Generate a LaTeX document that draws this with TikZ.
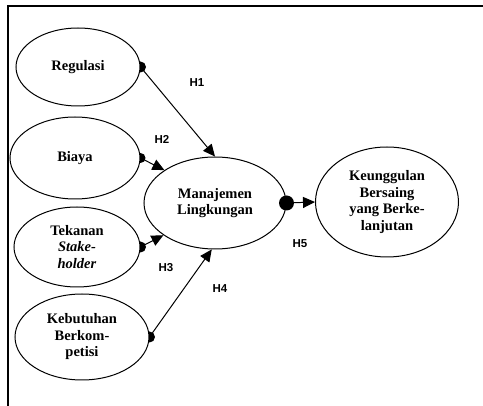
\documentclass[tikz,border=0pt]{standalone}
\usepackage{fontspec}
\setmainfont{Liberation Serif}
\newfontfamily\hfont{Liberation Sans}
\usetikzlibrary{shapes.geometric,arrows.meta}
\pgfdeclarelayer{bg}
\pgfsetlayers{bg,main}
\begin{document}
\begin{tikzpicture}[x=1pt,y=-1pt,
  var/.style={ellipse,draw,line width=1pt,fill=white,inner sep=0pt,align=center,
    font=\fontsize{14.5}{16.5}\selectfont\bfseries},
  conn/.style={line width=1pt,-{Triangle[length=12pt,width=11pt]}},
  hlab/.style={font=\hfont\fontsize{11.5}{13}\selectfont\bfseries},
  framebox/.style={line width=1.5pt}]
\useasboundingbox (0,0) rectangle (483,406);
\draw[framebox] (8,406) -- (8,6) -- (483,6);

\node[var,minimum width=124pt,minimum height=78pt] (reg) at (78,67) {Regulasi};
\node[var,minimum width=130pt,minimum height=82pt] (bia) at (75,158) {Biaya};
\node[var,minimum width=126pt,minimum height=80pt] (tek) at (77,247) {Tekanan\\\textit{Stake-}\\\textit{holder}};
\node[var,minimum width=134pt,minimum height=86pt] (keb) at (82,337) {Kebutuhan\\Berkom-\\petisi};
\node[var,minimum width=142pt,minimum height=92pt] (man) at (215,203) {Manajemen\\Lingkungan};
\node[var,minimum width=143pt,minimum height=110pt] (keu) at (387,202) {Keunggulan\\Bersaing\\yang Berke-\\lanjutan};

\begin{pgfonlayer}{bg}
\fill (reg.east) circle (5.5pt);
\fill (bia.east) circle (5pt);
\fill (tek.east) circle (5.5pt);
\fill (keb.east) circle (5.5pt);
\end{pgfonlayer}

\draw[conn] (reg.east) -- (man.north);
\draw[conn] (bia.east) -- (man.147);
\draw[conn] (tek.east) -- (man.212);
\draw[conn] (keb.east) -- (man.266);
\draw[conn] (man.east) -- (keu.west);
\fill (man.east) circle (7.5pt);

\node[hlab] (h1) at (197,83) {H1};
\node[hlab] (h2) at (162,139) {H2};
\node[hlab] (h3) at (166,268) {H3};
\node[hlab] (h4) at (220,289) {H4};
\node[hlab] (h5) at (300,244) {H5};
\end{tikzpicture}
\end{document}
